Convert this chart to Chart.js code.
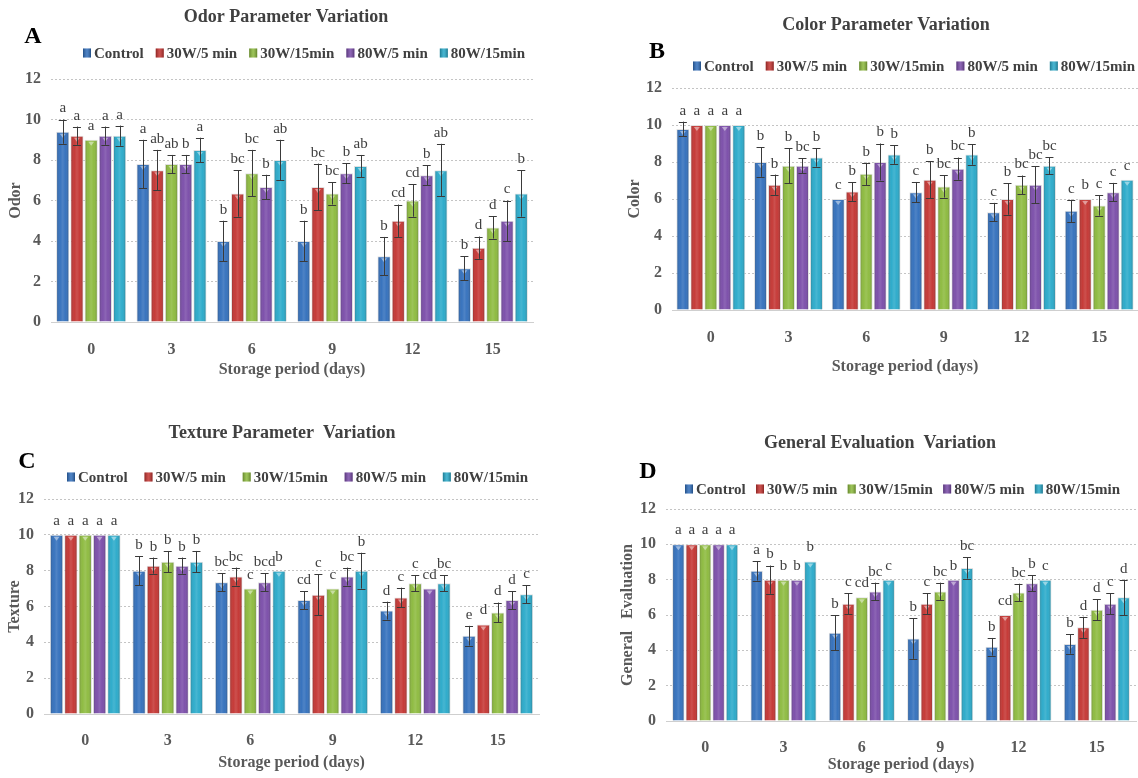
<!DOCTYPE html>
<html><head><meta charset="utf-8">
<script src="https://cdn.jsdelivr.net/npm/chart.js@4.4.0/dist/chart.umd.min.js"></script>
<style>
html,body{margin:0;padding:0;background:#fff;}
#wrap{position:relative;width:1138px;height:778px;overflow:hidden;background:#fff;}
canvas{position:absolute;}
</style></head><body>
<div id="wrap">
<canvas id="cA" width="570" height="390" style="left:0;top:0"></canvas>
<canvas id="cB" width="568" height="390" style="left:570px;top:0"></canvas>
<canvas id="cC" width="570" height="388" style="left:0;top:390px"></canvas>
<canvas id="cD" width="568" height="388" style="left:570px;top:390px"></canvas>
</div>
<script>
// ---------- DATA ----------
const days = ['0', '3', '6', '9', '12', '15'];
const seriesNames = ['Control', '30W/5 min', '30W/15min', '80W/5 min', '80W/15min'];

// Odor
const odorControl = [9.4, 7.8, 4.0, 4.0, 3.25, 2.65];
const odor30W5 = [9.2, 7.5, 6.35, 6.67, 5.0, 3.67];
const odor30W15 = [9.0, 7.8, 7.35, 6.35, 6.0, 4.67];
const odor80W5 = [9.2, 7.8, 6.67, 7.35, 7.25, 5.0];
const odor80W15 = [9.2, 8.5, 8.0, 7.7, 7.5, 6.35];
const odorControlErr = [0.6, 1.2, 1.0, 1.0, 0.95, 0.6];
const odor30W5Err = [0.45, 1.0, 1.15, 1.15, 0.8, 0.55];
const odor30W15Err = [0, 0.45, 1.15, 0.55, 0.8, 0.55];
const odor80W5Err = [0.45, 0.45, 0.6, 0.5, 0.5, 1.0];
const odor80W15Err = [0.5, 0.6, 1.0, 0.55, 1.3, 1.15];
const odorControlSig = ['a', 'a', 'b', 'b', 'b', 'b'];
const odor30W5Sig = ['a', 'ab', 'bc', 'bc', 'cd', 'd'];
const odor30W15Sig = ['a', 'ab', 'bc', 'bc', 'cd', 'd'];
const odor80W5Sig = ['a', 'b', 'b', 'b', 'b', 'c'];
const odor80W15Sig = ['a', 'a', 'ab', 'ab', 'ab', 'b'];

// Color
const colorControl = [9.78, 8.0, 6.0, 6.37, 5.29, 5.36];
const color30W5 = [10, 6.77, 6.4, 7.04, 6.0, 6.0];
const color30W15 = [10, 7.8, 7.36, 6.68, 6.77, 5.65];
const color80W5 = [10, 7.8, 8.0, 7.64, 6.77, 6.37];
const color80W15 = [10, 8.25, 8.4, 8.4, 7.8, 7.04];
const colorControlErr = [0.4, 0.8, 0, 0.55, 0.5, 0.6];
const color30W5Err = [0, 0.55, 0.5, 1.0, 0.85, 0];
const color30W15Err = [0, 0.95, 0.6, 0.6, 0.5, 0.55];
const color80W5Err = [0, 0.4, 1.0, 0.6, 1.0, 0.5];
const color80W15Err = [0, 0.5, 0.5, 0.55, 0.45, 0];
const colorControlSig = ['a', 'b', 'c', 'c', 'c', 'c'];
const color30W5Sig = ['a', 'b', 'b', 'b', 'b', 'b'];
const color30W15Sig = ['a', 'b', 'b', 'bc', 'bc', 'c'];
const color80W5Sig = ['a', 'bc', 'b', 'bc', 'bc', 'c'];
const color80W15Sig = ['a', 'b', 'b', 'b', 'bc', 'c'];

// Texture
const textureControl = [10, 8.0, 7.35, 6.36, 5.77, 4.37];
const texture30W5 = [10, 8.28, 7.67, 6.66, 6.5, 5.0];
const texture30W15 = [10, 8.5, 7.0, 7.0, 7.3, 5.67];
const texture80W5 = [10, 8.28, 7.35, 7.67, 7.0, 6.36];
const texture80W15 = [10, 8.5, 8.0, 8.0, 7.3, 6.68];
const textureControlErr = [0, 0.8, 0.5, 0.5, 0.5, 0.55];
const texture30W5Err = [0, 0.45, 0.5, 1.15, 0.55, 0];
const texture30W15Err = [0, 0.6, 0, 0, 0.45, 0.55];
const texture80W5Err = [0, 0.45, 0.5, 0.5, 0, 0.5];
const texture80W15Err = [0, 0.6, 0, 1.0, 0.45, 0.5];
const textureControlSig = ['a', 'b', 'bc', 'cd', 'd', 'e'];
const texture30W5Sig = ['a', 'b', 'bc', 'c', 'c', 'd'];
const texture30W15Sig = ['a', 'b', 'c', 'c', 'c', 'd'];
const texture80W5Sig = ['a', 'b', 'bcd', 'bc', 'cd', 'd'];
const texture80W15Sig = ['a', 'b', 'b', 'b', 'bc', 'c'];

// General evaluation
const generalControl = [10, 8.5, 5.0, 4.67, 4.2, 4.36];
const general30W5 = [10, 8.0, 6.63, 6.63, 6.0, 5.3];
const general30W15 = [10, 8.0, 7.0, 7.33, 7.27, 6.3];
const general80W5 = [10, 8.0, 7.33, 8.0, 7.8, 6.63];
const general80W15 = [10, 9.03, 8.0, 8.66, 8.0, 7.0];
const generalControlErr = [0, 0.55, 1.0, 1.15, 0.5, 0.55];
const general30W5Err = [0, 0.8, 0.6, 0.6, 0, 0.6];
const general30W15Err = [0, 0, 0, 0.5, 0.5, 0.6];
const general80W5Err = [0, 0, 0.5, 0, 0.45, 0.6];
const general80W15Err = [0, 0, 0, 0.6, 0, 1.0];
const generalControlSig = ['a', 'a', 'b', 'b', 'b', 'b'];
const general30W5Sig = ['a', 'b', 'c', 'c', 'cd', 'd'];
const general30W15Sig = ['a', 'b', 'cd', 'bc', 'bc', 'd'];
const general80W5Sig = ['a', 'b', 'bc', 'b', 'b', 'c'];
const general80W15Sig = ['a', 'b', 'c', 'bc', 'c', 'd'];

// ---------- STYLE / LAYOUT ----------
const SERIF = '"Liberation Serif","Times New Roman",serif';
const seriesColors = ['#2C6BBA', '#C22F2C', '#89B838', '#7647A6', '#23A7C8'];
const textDark = '#404040';
const textGrey = '#595959';

const panels = [
  { id: 'cA', W: 570, H: 390, title: 'Odor Parameter Variation', letter: 'A', yTitle: 'Odor',
    values: [odorControl, odor30W5, odor30W15, odor80W5, odor80W15],
    errs: [odorControlErr, odor30W5Err, odor30W15Err, odor80W5Err, odor80W15Err],
    sigs: [odorControlSig, odor30W5Sig, odor30W15Sig, odor80W5Sig, odor80W15Sig],
    area: { l: 51, r: 533, t: 79, b: 322 }, yTitleX: 16, xTitleY: 370, tickY: 342,
    titlePos: [286, 17], letterPos: [33, 37], legend: { x0: 83, x1: 525, y: 53 }, catPct: 0.885 },
  { id: 'cB', W: 568, H: 390, title: 'Color Parameter Variation', letter: 'B', yTitle: 'Color',
    values: [colorControl, color30W5, color30W15, color80W5, color80W15],
    errs: [colorControlErr, color30W5Err, color30W15Err, color80W5Err, color80W15Err],
    sigs: [colorControlSig, color30W5Sig, color30W15Sig, color80W5Sig, color80W15Sig],
    area: { l: 102, r: 568, t: 88, b: 310 }, yTitleX: 65, xTitleY: 367, tickY: 330,
    titlePos: [316, 25], letterPos: [87, 52], legend: { x0: 123, x1: 565, y: 66 }, catPct: 0.90 },
  { id: 'cC', W: 570, H: 388, title: 'Texture Parameter  Variation', letter: 'C', yTitle: 'Texture',
    values: [textureControl, texture30W5, texture30W15, texture80W5, texture80W15],
    errs: [textureControlErr, texture30W5Err, texture30W15Err, texture80W5Err, texture80W15Err],
    sigs: [textureControlSig, texture30W5Sig, texture30W15Sig, texture80W5Sig, texture80W15Sig],
    area: { l: 44, r: 539, t: 109, b: 324 }, yTitleX: 15, xTitleY: 373, tickY: 343,
    titlePos: [282, 43], letterPos: [27, 72], legend: { x0: 67, x1: 528, y: 87 }, catPct: 0.87 },
  { id: 'cD', W: 568, H: 388, title: 'General Evaluation  Variation', letter: 'D', yTitle: 'General   Evaluation',
    values: [generalControl, general30W5, general30W15, general80W5, general80W15],
    errs: [generalControlErr, general30W5Err, general30W15Err, general80W5Err, general80W15Err],
    sigs: [generalControlSig, general30W5Sig, general30W15Sig, general80W5Sig, general80W15Sig],
    area: { l: 96, r: 566, t: 119, b: 331 }, yTitleX: 58, xTitleY: 375, tickY: 350,
    titlePos: [310, 53], letterPos: [78, 82], legend: { x0: 115, x1: 550, y: 99 }, catPct: 0.856 }
];

function shadeRect(ctx, x, y, w, h, color) {
  ctx.fillStyle = color;
  ctx.fillRect(x, y, w, h);
  const g = ctx.createLinearGradient(x, 0, x + w, 0);
  g.addColorStop(0, 'rgba(0,0,0,0.28)');
  g.addColorStop(0.5, 'rgba(255,255,255,0.16)');
  g.addColorStop(1, 'rgba(0,0,0,0.30)');
  ctx.fillStyle = g;
  ctx.fillRect(x, y, w, h);
}

function makeChart(p) {
  const yFont = 16, xFont = 16;
  const yLH = yFont * 1.2, xLH = xFont * 1.2;
  const padL = p.yTitleX - yLH / 2;
  const Wy = p.area.l - padL;
  const Hx = p.xTitleY - p.area.b + xLH / 2;
  const padB = p.H - p.area.b - Hx;
  const tickFont = 16, tickLH = tickFont * 1.2;
  const tickPad = p.tickY - p.area.b - tickLH / 2;

  const decor = {
    id: 'decor' + p.id,
    afterDatasetsDraw(chart) {
      const ctx = chart.ctx;
      const ys = chart.scales.y;
      chart.data.datasets.forEach((ds, di) => {
        const meta = chart.getDatasetMeta(di);
        meta.data.forEach((el, i) => {
          const x = el.x, w = el.width, top = el.y, base = el.base;
          ctx.save();
          const g = ctx.createLinearGradient(x - w / 2, 0, x + w / 2, 0);
          g.addColorStop(0, 'rgba(0,0,0,0.30)');
          g.addColorStop(0.3, 'rgba(255,255,255,0.06)');
          g.addColorStop(0.5, 'rgba(255,255,255,0.16)');
          g.addColorStop(0.7, 'rgba(255,255,255,0.06)');
          g.addColorStop(1, 'rgba(0,0,0,0.32)');
          ctx.fillStyle = g;
          ctx.fillRect(x - w / 2 + 1, top + 1, w - 2, base - top - 1);
          ctx.fillStyle = 'rgba(255,255,255,0.45)';
          ctx.beginPath();
          ctx.moveTo(x - 3, top + 2);
          ctx.lineTo(x + 3, top + 2);
          ctx.lineTo(x, top + 6);
          ctx.closePath();
          ctx.fill();
          const v = ds.data[i], e = p.errs[di][i];
          let labelTop = top;
          if (e > 0) {
            const yHi = ys.getPixelForValue(v + e), yLo = ys.getPixelForValue(v - e);
            ctx.strokeStyle = '#3a3a3a';
            ctx.lineWidth = 1;
            ctx.beginPath();
            ctx.moveTo(Math.round(x) + 0.5, yHi); ctx.lineTo(Math.round(x) + 0.5, yLo);
            ctx.moveTo(x - 4, Math.round(yHi) + 0.5); ctx.lineTo(x + 4, Math.round(yHi) + 0.5);
            ctx.moveTo(x - 4, Math.round(yLo) + 0.5); ctx.lineTo(x + 4, Math.round(yLo) + 0.5);
            ctx.stroke();
            labelTop = yHi;
          }
          ctx.fillStyle = textDark;
          ctx.font = '15px ' + SERIF;
          ctx.textAlign = 'center';
          ctx.textBaseline = 'middle';
          ctx.fillText(p.sigs[di][i], x, labelTop - (e > 0 ? 11 : 14));
          ctx.restore();
        });
      });
    },
    afterDraw(chart) {
      const ctx = chart.ctx;
      ctx.save();
      ctx.fillStyle = textDark;
      ctx.textAlign = 'center';
      ctx.textBaseline = 'middle';
      ctx.font = 'bold 18px ' + SERIF;
      ctx.fillText(p.title, p.titlePos[0], p.titlePos[1]);
      ctx.fillStyle = '#000';
      ctx.font = 'bold 24px ' + SERIF;
      ctx.fillText(p.letter, p.letterPos[0], p.letterPos[1]);
      ctx.font = 'bold 15px ' + SERIF;
      const box = 8, gapBT = 3;
      const widths = chart.data.datasets.map(ds => ctx.measureText(ds.label).width);
      const natural = widths.reduce((a, b) => a + b, 0) + widths.length * (box + gapBT);
      const gap = (p.legend.x1 - p.legend.x0 - natural) / (widths.length - 1);
      let cx = p.legend.x0;
      ctx.textAlign = 'left';
      chart.data.datasets.forEach((ds, i) => {
        shadeRect(ctx, cx, p.legend.y - 4.5, box, 9, ds.backgroundColor);
        ctx.fillStyle = textDark;
        ctx.fillText(ds.label, cx + box + gapBT, p.legend.y + 1);
        cx += box + gapBT + widths[i] + gap;
      });
      ctx.restore();
    }
  };

  return new Chart(document.getElementById(p.id), {
    type: 'bar',
    data: {
      labels: days,
      datasets: seriesNames.map((name, i) => ({
        label: name,
        data: p.values[i],
        backgroundColor: seriesColors[i],
        borderColor: 'rgba(225,225,225,1)',
        borderWidth: 1,
        categoryPercentage: p.catPct,
        barPercentage: 0.93
      }))
    },
    options: {
      responsive: false,
      animation: false,
      devicePixelRatio: 1,
      layout: { padding: { left: padL, right: p.W - p.area.r, top: p.area.t, bottom: padB } },
      plugins: { legend: { display: false }, title: { display: false }, tooltip: { enabled: false } },
      scales: {
        x: {
          grid: { display: false },
          border: { display: true, color: '#cfcfcf', width: 1 },
          ticks: { font: { family: SERIF, size: tickFont, weight: 'bold' }, color: textGrey, padding: tickPad },
          title: { display: true, text: 'Storage period (days)', font: { family: SERIF, size: xFont, weight: 'bold' }, color: textGrey, padding: 0 },
          afterFit: (s) => { s.height = Hx; }
        },
        y: {
          min: 0, max: 12,
          ticks: { stepSize: 2, font: { family: SERIF, size: tickFont, weight: 'bold' }, color: textGrey, padding: 10 },
          grid: { color: '#c4c4c4', drawTicks: false, lineWidth: 1 },
          border: { display: false, dash: [2, 2] },
          title: { display: true, text: p.yTitle, font: { family: SERIF, size: yFont, weight: 'bold' }, color: textGrey, padding: 0 },
          afterFit: (s) => { s.width = Wy; }
        }
      }
    },
    plugins: [decor]
  });
}

panels.forEach(makeChart);
</script>
</body></html>
